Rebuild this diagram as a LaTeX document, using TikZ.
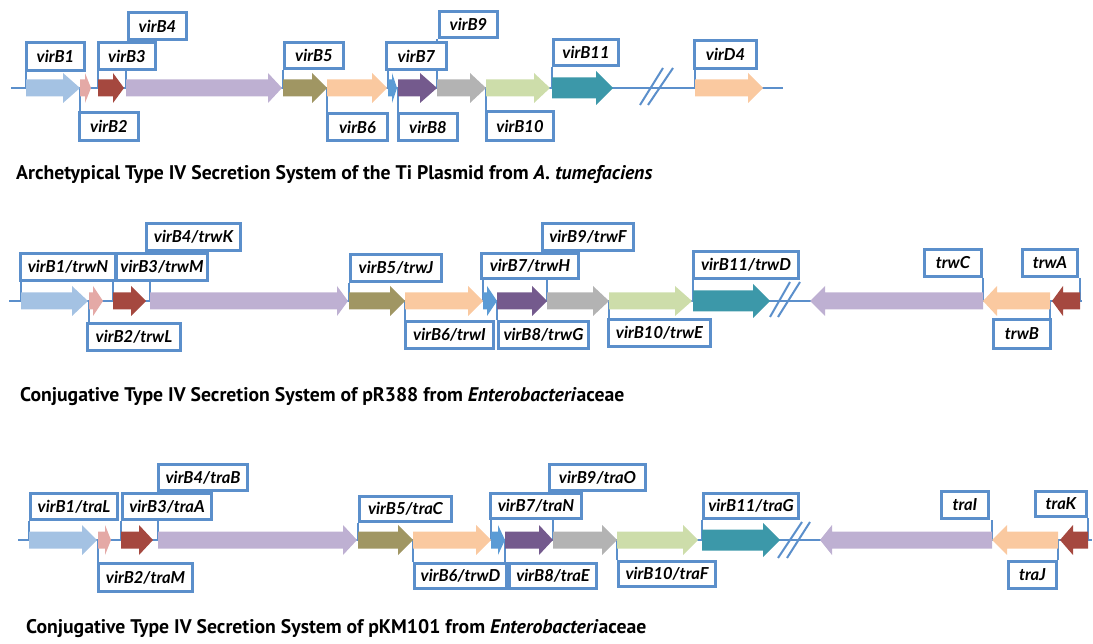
\documentclass[tikz,border=0pt]{standalone}
\usepackage{fontspec}
\setmainfont{PT Sans}
\newfontfamily\labfont{Lato}
\pgfdeclarelayer{back}
\pgfdeclarelayer{front}
\pgfsetlayers{back,main,front}

\definecolor{linkblue}{RGB}{91,143,203}
\definecolor{gOne}{RGB}{164,194,227}
\definecolor{gTwo}{RGB}{228,169,166}
\definecolor{gThree}{RGB}{165,72,63}
\definecolor{gFour}{RGB}{190,176,210}
\definecolor{gFive}{RGB}{160,150,99}
\definecolor{gSix}{RGB}{250,201,160}
\definecolor{gSeven}{RGB}{91,155,213}
\definecolor{gEight}{RGB}{116,90,141}
\definecolor{gNine}{RGB}{179,179,179}
\definecolor{gTen}{RGB}{205,221,170}
\definecolor{gEleven}{RGB}{60,152,169}

\tikzset{
  lab/.style={draw=linkblue, line width=2.8pt, fill=white, inner sep=0pt,
    font=\labfont\fontsize{16.5}{18}\selectfont\bfseries\itshape},
  leg/.style={draw=linkblue, line width=2.2pt},
  backbone/.style={draw=linkblue, line width=2.4pt},
  breakmark/.style={draw=linkblue, line width=2pt},
  caption/.style={anchor=west, inner sep=0pt, font=\fontsize{19.7}{22}\selectfont\bfseries}
}

% gene arrow: name, start x, head x, tip x, axis y, colour, body half height, head half height
\newcommand\gene[8]{%
  \coordinate (#1) at (#2,#5);
  \fill[#6] (#2,#5-#7) -- (#3,#5-#7) -- (#3,#5-#8) -- (#4,#5)
            -- (#3,#5+#8) -- (#3,#5+#7) -- (#2,#5+#7) -- cycle;}
% label box: name, x1, y1, x2, y2, text
\newcommand\lab[6]{%
  \node[lab, minimum width={#4-#2-2.8}, minimum height={#5-#3-2.8}]
    (#1) at ({(#2+#4)/2},{(#3+#5)/2}) {#6};}
% callout legs from a box down (or up) to the start of its gene
\newcommand\legtop[2]{\draw[leg] (#2 |- #1.south) -- (#2);}
\newcommand\legbot[2]{\draw[leg] (#2 |- #1.north) -- (#2);}

\begin{document}
\begin{tikzpicture}[x=1pt, y=-1pt]
\path[use as bounding box] (0,0) rectangle (1093,644);

%% ---------------- Ti plasmid ----------------
\coordinate (a0) at (11,88);
\coordinate (a9) at (783,88);
\begin{pgfonlayer}{back}
  \draw[backbone] (a0) -- (a9);
  \draw[breakmark] (640,105) -- (663,68);
  \draw[breakmark] (648,105) -- (673,68);
\end{pgfonlayer}
\gene{aB1}{26}{63}{80}{88}{gOne}{8.5}{15}
\gene{aB2}{80}{85}{91}{88}{gTwo}{8.5}{15}
\gene{aB3}{98}{113}{124}{88}{gThree}{8.5}{15}
\gene{aB4}{126}{268}{282}{88}{gFour}{8.5}{15}
\gene{aB5}{283}{312}{327}{88}{gFive}{8.5}{15}
\gene{aB6}{327}{372}{387}{88}{gSix}{8.5}{15}
\gene{aB7}{388}{392}{397}{88}{gSeven}{8.5}{15}
\gene{aB8}{398}{420}{437}{88}{gEight}{8.5}{15}
\gene{aB9}{437}{470}{486}{88}{gNine}{8.5}{15}
\gene{aB10}{486}{534}{550}{88}{gTen}{8.5}{15}
\gene{aB11}{552}{596}{613}{88}{gEleven}{10.5}{17}
\gene{aD4}{695}{748}{763}{88}{gSix}{8.5}{15}
\begin{pgfonlayer}{front}
  \lab{laB1}{25}{41}{86}{72}{virB1}
  \lab{laB2}{78}{111}{140}{142}{virB2}
  \lab{laB3}{97}{41}{157}{71}{virB3}
  \lab{laB4}{127}{11}{188}{41}{virB4}
  \lab{laB5}{283}{41}{345}{70}{virB5}
  \lab{laB6}{326}{112}{389}{142}{virB6}
  \lab{laB7}{385}{41}{448}{71}{virB7}
  \lab{laB8}{397}{112}{459}{142}{virB8}
  \lab{laB9}{438}{10}{499}{39}{virB9}
  \lab{laB10}{485}{110}{555}{142}{virB10}
  \lab{laB11}{552}{38}{620}{67}{virB11}
  \lab{laD4}{693}{39}{758}{70}{virD4}
  \node[caption] (cap1) at (16,175)
    {Archetypical Type IV Secretion System of the Ti Plasmid from \textit{A. tumefaciens}};
\end{pgfonlayer}
\begin{pgfonlayer}{back}
  \legtop{laB1}{aB1} \legbot{laB2}{aB2} \legtop{laB3}{aB3} \legtop{laB4}{aB4}
  \legtop{laB5}{aB5} \legbot{laB6}{aB6} \legtop{laB7}{aB7} \legbot{laB8}{aB8}
  \legtop{laB9}{aB9} \legbot{laB10}{aB10} \legtop{laB11}{aB11} \legtop{laD4}{aD4}
\end{pgfonlayer}

%% ---------------- pR388 ----------------
\coordinate (b0) at (9,301);
\coordinate (b9) at (1082,301);
\begin{pgfonlayer}{back}
  \draw[backbone] (b0) -- (b9);
  \draw[breakmark] (770,317) -- (790,282);
  \draw[breakmark] (778,317) -- (800,282);
\end{pgfonlayer}
\gene{bB1}{21}{72}{88}{301}{gOne}{8.5}{15}
\gene{bB2}{89}{93}{103}{301}{gTwo}{8.5}{15}
\gene{bB3}{113}{131}{146}{301}{gThree}{8.5}{15}
\gene{bB4}{150}{337}{348}{301}{gFour}{8.5}{15}
\gene{bB5}{349}{390}{405}{301}{gFive}{8.5}{15}
\gene{bB6}{405}{468}{483}{301}{gSix}{8.5}{15}
\gene{bB7}{483}{487}{497}{301}{gSeven}{8.5}{15}
\gene{bB8}{497}{532}{547}{301}{gEight}{8.5}{15}
\gene{bB9}{547}{593}{609}{301}{gNine}{8.5}{15}
\gene{bB10}{609}{675}{692}{301}{gTen}{8.5}{15}
\gene{bB11}{693}{753}{770}{301}{gEleven}{10.5}{17}
\gene{bC}{983}{825}{810}{301}{gFour}{8.5}{15}
\gene{bB}{1050}{997}{983}{301}{gSix}{8.5}{15}
\gene{bA}{1080}{1063}{1052}{301}{gThree}{8.5}{15}
\begin{pgfonlayer}{front}
  \lab{lbB1}{19}{252}{117}{282}{virB1/trwN}
  \lab{lbB2}{86}{322}{182}{352}{virB2/trwL}
  \lab{lbB3}{115}{252}{209}{282}{virB3/trwM}
  \lab{lbB4}{145}{222}{242}{252}{virB4/trwK}
  \lab{lbB5}{349}{253}{443}{283}{virB5/trwJ}
  \lab{lbB6}{404}{320}{495}{350}{virB6/trwI}
  \lab{lbB7}{480}{252}{580}{280}{virB7/trwH}
  \lab{lbB8}{497}{320}{590}{350}{virB8/trwG}
  \lab{lbB9}{541}{222}{635}{252}{virB9/trwF}
  \lab{lbB10}{607}{318}{712}{348}{virB10/trwE}
  \lab{lbB11}{692}{250}{800}{280}{virB11/trwD}
  \lab{lbC}{923}{248}{983}{278}{trwC}
  \lab{lbB}{992}{318}{1052}{350}{trwB}
  \lab{lbA}{1021}{248}{1079}{278}{trwA}
  \node[caption] (cap2) at (20,397)
    {Conjugative Type IV Secretion System of pR388 from \textit{Enterobacteri}aceae};
\end{pgfonlayer}
\begin{pgfonlayer}{back}
  \legtop{lbB1}{bB1} \legbot{lbB2}{bB2} \legtop{lbB3}{bB3} \legtop{lbB4}{bB4}
  \legtop{lbB5}{bB5} \legbot{lbB6}{bB6} \legtop{lbB7}{bB7} \legbot{lbB8}{bB8}
  \legtop{lbB9}{bB9} \legbot{lbB10}{bB10} \legtop{lbB11}{bB11}
  \legtop{lbC}{bC} \legbot{lbB}{bB} \legtop{lbA}{bA}
\end{pgfonlayer}

%% ---------------- pKM101 ----------------
\coordinate (c0) at (18,540);
\coordinate (c9) at (1092,540);
\begin{pgfonlayer}{back}
  \draw[backbone] (c0) -- (c9);
  \draw[breakmark] (778,558) -- (802,522);
  \draw[breakmark] (787,558) -- (810,522);
\end{pgfonlayer}
\gene{cB1}{29}{82}{97}{540}{gOne}{8.5}{15}
\gene{cB2}{98}{105}{111}{540}{gTwo}{8.5}{15}
\gene{cB3}{121}{139}{153}{540}{gThree}{8.5}{15}
\gene{cB4}{158}{343}{357}{540}{gFour}{8.5}{15}
\gene{cB5}{358}{398}{413}{540}{gFive}{8.5}{15}
\gene{cB6}{413}{476}{491}{540}{gSix}{8.5}{15}
\gene{cB7}{491}{498}{505}{540}{gSeven}{8.5}{15}
\gene{cB8}{505}{539}{553}{540}{gEight}{8.5}{15}
\gene{cB9}{553}{602}{617}{540}{gNine}{8.5}{15}
\gene{cB10}{617}{683}{698}{540}{gTen}{8.5}{15}
\gene{cB11}{702}{763}{780}{540}{gEleven}{10.5}{17}
\gene{cI}{992}{832}{820}{540}{gFour}{8.5}{15}
\gene{cJ}{1058}{1007}{992}{540}{gSix}{8.5}{15}
\gene{cK}{1088}{1073}{1060}{540}{gThree}{8.5}{15}
\begin{pgfonlayer}{front}
  \lab{lcB1}{29}{492}{119}{521}{virB1/traL}
  \lab{lcB2}{97}{562}{194}{593}{virB2/traM}
  \lab{lcB3}{121}{492}{213}{521}{virB3/traA}
  \lab{lcB4}{157}{463}{249}{492}{virB4/traB}
  \lab{lcB5}{358}{495}{453}{523}{virB5/traC}
  \lab{lcB6}{413}{562}{508}{590}{virB6/trwD}
  \lab{lcB7}{489}{492}{583}{520}{virB7/traN}
  \lab{lcB8}{508}{562}{598}{590}{virB8/traE}
  \lab{lcB9}{548}{463}{647}{492}{virB9/traO}
  \lab{lcB10}{617}{560}{717}{588}{virB10/traF}
  \lab{lcB11}{702}{492}{800}{520}{virB11/traG}
  \lab{lcI}{940}{490}{990}{520}{traI}
  \lab{lcK}{1034}{490}{1088}{518}{traK}
  \lab{lcJ}{1007}{560}{1058}{590}{traJ}
  \node[caption] (cap3) at (26,629)
    {Conjugative Type IV Secretion System of pKM101 from \textit{Enterobacteri}aceae};
\end{pgfonlayer}
\begin{pgfonlayer}{back}
  \legtop{lcB1}{cB1} \legbot{lcB2}{cB2} \legtop{lcB3}{cB3} \legtop{lcB4}{cB4}
  \legtop{lcB5}{cB5} \legbot{lcB6}{cB6} \legtop{lcB7}{cB7} \legbot{lcB8}{cB8}
  \legtop{lcB9}{cB9} \legbot{lcB10}{cB10} \legtop{lcB11}{cB11}
  \legtop{lcI}{cI} \legtop{lcK}{cK} \legbot{lcJ}{cJ}
\end{pgfonlayer}
\end{tikzpicture}
\end{document}
